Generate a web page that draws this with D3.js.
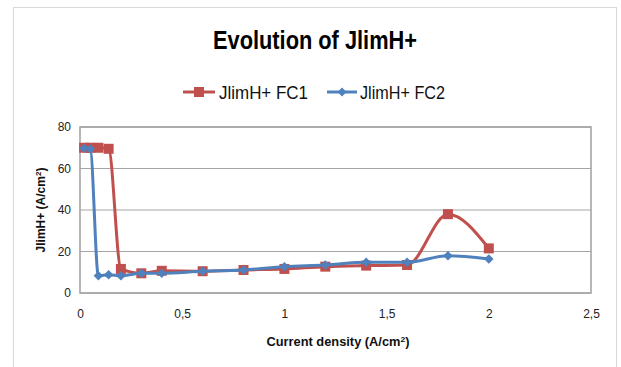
<!DOCTYPE html>
<html><head><meta charset="utf-8">
<script src="https://cdn.jsdelivr.net/npm/d3@7"></script>
<style>
html,body{margin:0;padding:0;background:#fff;}
text{font-family:"Liberation Sans Narrow","Arial Narrow",sans-serif;}
</style></head>
<body>
<svg id="chart" width="621" height="367"></svg>
<script>
const xFC1 = [0.02, 0.05, 0.09, 0.14, 0.2, 0.3, 0.4, 0.6, 0.8, 1.0, 1.2, 1.4, 1.6, 1.8, 2.0];
const yFC1 = [70, 70, 70, 69.5, 11.6, 9.5, 10.7, 10.5, 11.1, 11.6, 12.7, 13.2, 13.5, 38, 21.5];
const xFC2 = [0.02, 0.05, 0.09, 0.14, 0.2, 0.3, 0.4, 0.6, 0.8, 1.0, 1.2, 1.4, 1.6, 1.8, 2.0];
const yFC2 = [69.7, 69.4, 8.3, 8.8, 8.3, 9.5, 9.5, 10.5, 11.1, 12.7, 13.5, 14.8, 14.8, 18, 16.4];
const seriesNames = ["JlimH+ FC1", "JlimH+ FC2"];
const xTicks = [0, 0.5, 1, 1.5, 2, 2.5];
const yTicks = [0, 20, 40, 60, 80];
const colors = ["#C0504D", "#4F81BD"];

const svg = d3.select("#chart");
// outer chart border
svg.append("rect").attr("x",13.5).attr("y",7.5).attr("width",603).attr("height",370)
  .attr("fill","none").attr("stroke","#d9d9d9").attr("stroke-width",1);

const L=80, R=591, T=127, B=293;
const x = d3.scaleLinear().domain([0,2.5]).range([L,R]);
const y = d3.scaleLinear().domain([0,80]).range([B,T]);

// gridlines
svg.append("g").selectAll("line").data(yTicks).join("line")
  .attr("x1",L).attr("x2",R).attr("y1",d=>y(d)).attr("y2",d=>y(d))
  .attr("stroke","#a6a6a6").attr("stroke-width",1.2);
// plot border
svg.append("rect").attr("x",L).attr("y",T).attr("width",R-L).attr("height",B-T)
  .attr("fill","none").attr("stroke","#a0a0a0").attr("stroke-width",1.5);

// axes labels via d3 axes
const xAxis = svg.append("g").attr("transform",`translate(0,${B})`)
  .call(d3.axisBottom(x).tickValues(xTicks).tickSize(0).tickPadding(16)
    .tickFormat(d=>String(d).replace(".",",")));
xAxis.select(".domain").remove();
xAxis.selectAll("text").attr("font-size",12).attr("fill","#222")
  .style("font-family","'Liberation Sans Narrow',sans-serif");

const yAxis = svg.append("g").attr("transform",`translate(${L},0)`)
  .call(d3.axisLeft(y).tickValues(yTicks).tickSize(0).tickPadding(9));
yAxis.select(".domain").remove();
yAxis.selectAll("text").attr("font-size",12).attr("fill","#222")
  .style("font-family","'Liberation Sans Narrow',sans-serif");

// series
const line = d3.line().curve(d3.curveMonotoneX).x(d=>x(d[0])).y(d=>y(d[1]));
const d1 = xFC1.map((v,i)=>[v,yFC1[i]]);
const d2 = xFC2.map((v,i)=>[v,yFC2[i]]);

svg.append("path").datum(d1).attr("d",line).attr("fill","none")
  .attr("stroke",colors[0]).attr("stroke-width",3).attr("stroke-linejoin","round");
svg.append("g").selectAll("rect").data(d1).join("rect")
  .attr("x",d=>x(d[0])-5).attr("y",d=>y(d[1])-5).attr("width",10).attr("height",10)
  .attr("fill",colors[0]);

svg.append("path").datum(d2).attr("d",line).attr("fill","none")
  .attr("stroke",colors[1]).attr("stroke-width",3).attr("stroke-linejoin","round");
svg.append("g").selectAll("path").data(d2).join("path")
  .attr("transform",d=>`translate(${x(d[0])},${y(d[1])}) rotate(45)`)
  .attr("d",d3.symbol().type(d3.symbolSquare).size(45)())
  .attr("fill",colors[1]);

// title
svg.append("text").attr("x",315).attr("y",49).attr("text-anchor","middle")
  .attr("font-size",25).attr("font-weight","bold").attr("fill","#000")
  .attr("textLength",204).attr("lengthAdjust","spacingAndGlyphs")
  .text("Evolution of JlimH+");

// legend
const leg = [{x1:183,x2:215,tx:219,tw:89},{x1:327,x2:357,tx:360,tw:85}];
leg.forEach((l,i)=>{
  const g = svg.append("g");
  g.append("line").attr("x1",l.x1).attr("x2",l.x2).attr("y1",92).attr("y2",92)
    .attr("stroke",colors[i]).attr("stroke-width",3);
  const cx=(l.x1+l.x2)/2;
  if(i===0) g.append("rect").attr("x",cx-5).attr("y",87).attr("width",10).attr("height",10).attr("fill",colors[0]);
  else g.append("path").attr("transform",`translate(${cx},92) rotate(45)`)
    .attr("d",d3.symbol().type(d3.symbolSquare).size(40)()).attr("fill",colors[1]);
  g.append("text").attr("x",l.tx).attr("y",99).attr("font-size",19).attr("fill","#111")
    .attr("textLength",l.tw).attr("lengthAdjust","spacingAndGlyphs").text(seriesNames[i]);
});

// axis titles
const xt = svg.append("text").attr("x",338).attr("y",346).attr("text-anchor","middle")
  .attr("font-size",12).attr("font-weight","bold").attr("fill","#111")
  .attr("textLength",143).attr("lengthAdjust","spacingAndGlyphs");
xt.append("tspan").text("Current density (A/cm");
xt.append("tspan").attr("font-size",8).attr("dy",-4).text("2");
xt.append("tspan").attr("dy",4).text(")");

const yt = svg.append("text").attr("transform","translate(45,210) rotate(-90)")
  .attr("text-anchor","middle").attr("font-size",12).attr("font-weight","bold").attr("fill","#111");
yt.append("tspan").text("JlimH+ (A/cm");
yt.append("tspan").attr("font-size",8).attr("dy",-4).text("2");
yt.append("tspan").attr("dy",4).text(")");
</script>
</body></html>
